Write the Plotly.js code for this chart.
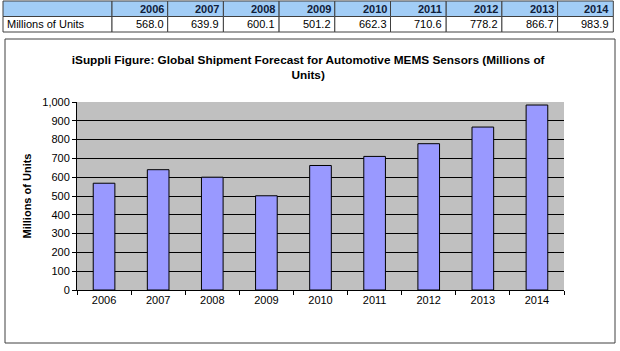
<!DOCTYPE html>
<html>
<head>
<meta charset="utf-8">
<script src="https://cdn.plot.ly/plotly-3.0.1.min.js"></script>
<style>html,body{margin:0;padding:0;background:#fff;}#chart{width:620px;height:351px;}</style>
</head>
<body>
<div id="chart"></div>
<script>
var years = ['2006','2007','2008','2009','2010','2011','2012','2013','2014'];
var units = [568.0, 639.9, 600.1, 501.2, 662.3, 710.6, 778.2, 866.7, 983.9];
var rowLabel = 'Millions of Units';
var chartTitle = 'iSuppli Figure: Global Shipment Forecast for Automotive MEMS Sensors (Millions of<br>Units)';
var yTitle = 'Millions of Units';

var W = 620, H = 351;
function px(x){return x / W;}
function py(y){return 1 - y / H;}
var FONT = 'Arial, "Liberation Sans", sans-serif';

// ---- summary table built from the data arrays (shapes + annotations) ----
var tblLeft = 3, firstColRight = 112, colWidth = 55.7;
var rowEdges = [1, 16.5, 32];
var headerFill = '#A2CDF6';
var gridColor = '#404040';
var shapes = [];
var annotations = [];
var colEdges = [tblLeft, firstColRight];
years.forEach(function(_, i){ colEdges.push(firstColRight + colWidth * (i + 1)); });

var headerRow = [''].concat(years);
var dataRow = [rowLabel].concat(units.map(function(v){ return v.toFixed(1); }));
[headerRow, dataRow].forEach(function(row, r){
  row.forEach(function(txt, c){
    var x0 = colEdges[c], x1 = colEdges[c + 1];
    var y0 = rowEdges[r], y1 = rowEdges[r + 1];
    shapes.push({type: 'rect', xref: 'paper', yref: 'paper',
      x0: px(x0), x1: px(x1), y0: py(y1), y1: py(y0),
      line: {color: gridColor, width: 1},
      fillcolor: r === 0 ? headerFill : '#FFFFFF', layer: 'below'});
    if (txt !== '') {
      var left = (c === 0);
      annotations.push({xref: 'paper', yref: 'paper',
        x: left ? px(x0 + 2) : px(x1 - 2), xanchor: left ? 'left' : 'right',
        y: py((y0 + y1) / 2), yanchor: 'middle',
        text: r === 0 ? '<b>' + txt + '</b>' : txt,
        showarrow: false,
        font: {family: FONT, size: 11, color: r === 0 ? '#10203A' : '#000'}});
    }
  });
});

// chart frame
shapes.push({type: 'rect', xref: 'paper', yref: 'paper',
  x0: px(5), x1: px(615), y0: py(343), y1: py(39),
  line: {color: gridColor, width: 1}, fillcolor: 'rgba(0,0,0,0)', layer: 'below'});

var bars = {
  type: 'bar',
  x: years,
  y: units,
  marker: {color: '#9999FF', line: {color: '#000000', width: 1}},
  hoverinfo: 'x+y'
};

var layout = {
  width: W, height: H,
  margin: {l: 0, r: 0, t: 0, b: 0},
  paper_bgcolor: '#FFFFFF',
  plot_bgcolor: '#C0C0C0',
  showlegend: false,
  bargap: 0.6,
  font: {family: FONT, size: 11, color: '#000'},
  title: {
    text: chartTitle,
    font: {family: FONT, size: 11.8, color: '#000', weight: 'bold'},
    x: 0.497, xanchor: 'center',
    y: py(63.5), yanchor: 'top'
  },
  xaxis: {
    domain: [px(77), px(564)],
    type: 'category',
    tickson: 'boundaries',
    ticks: 'outside', ticklen: 4, tickcolor: '#000',
    showline: true, linecolor: '#000', linewidth: 1,
    showgrid: false,
    tickfont: {family: FONT, size: 11, color: '#000'},
    fixedrange: true
  },
  yaxis: {
    domain: [py(290), py(102)],
    range: [0, 1000],
    dtick: 100,
    tickformat: ',',
    ticks: 'outside', ticklen: 4, tickcolor: '#000',
    showline: true, linecolor: '#000', linewidth: 1,
    showgrid: true, gridcolor: '#000000', gridwidth: 1,
    zeroline: false,
    tickfont: {family: FONT, size: 11, color: '#000'},
    title: {text: yTitle, font: {family: FONT, size: 11, color: '#000', weight: 'bold'}, standoff: 8},
    fixedrange: true
  },
  shapes: shapes,
  annotations: annotations
};

Plotly.newPlot('chart', [bars], layout, {displayModeBar: false, staticPlot: true});
</script>
</body>
</html>
